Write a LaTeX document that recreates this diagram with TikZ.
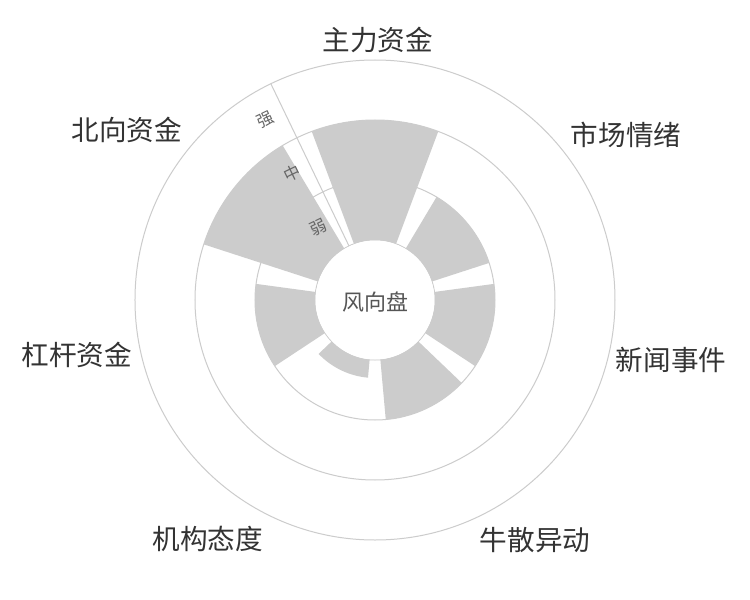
\documentclass[tikz,border=0pt]{standalone}
\usepackage{fontspec}
\setmainfont{Noto Sans CJK SC}
\usetikzlibrary{calc}
\definecolor{barc}{HTML}{CCCCCC}
\definecolor{gridc}{HTML}{CCCCCC}
\definecolor{labc}{HTML}{333333}
\definecolor{axlab}{HTML}{666666}
\definecolor{ctrc}{HTML}{555555}
\tikzset{
  gridline/.style={draw=gridc, line width=1pt},
  barfill/.style={fill=barc},
  catlabel/.style={inner sep=0pt, text=labc, font=\fontsize{27.6}{27.6}\selectfont},
  ringlabel/.style={inner sep=0pt, text=axlab, font=\fontsize{16.5}{16.5}\selectfont, rotate=25.714},
  centerlabel/.style={inner sep=0pt, text=ctrc, font=\fontsize{22}{22}\selectfont}
}
\newcommand{\polarbar}[2]{%
  \pgfmathsetmacro{\aa}{90-#1-20.57}%
  \pgfmathsetmacro{\ab}{90-#1+20.57}%
  \fill[barfill] (\aa:60) arc[start angle=\aa, end angle=\ab, radius=60]
     -- (\ab:#2) arc[start angle=\ab, end angle=\aa, radius=#2] -- cycle;%
}
\begin{document}
\begin{tikzpicture}[x=1pt,y=1pt]
\useasboundingbox[fill=white] (-375,-300) rectangle (375,300);
% grid circles
\foreach \r in {60,120,180,240} {\draw[gridline] (0,0) circle[radius=\r];}
% radial axis
\coordinate (ax0) at (115.714:60);
\coordinate (ax1) at (115.714:240);
\draw[gridline] (ax0) -- (ax1);
% bars
\polarbar{0}{180}
\polarbar{51.4286}{120}
\polarbar{102.857}{120}
\polarbar{154.286}{120}
\polarbar{205.714}{78}
\polarbar{257.143}{120}
\polarbar{308.571}{180}
% inner circle
\fill[white] (0,0) circle[radius=59.5];
% ring labels
\node[ringlabel] (ruo) at ($(115.714:90)+(205.714:20)$) {弱};
\node[ringlabel] (zhong) at ($(115.714:150)+(205.714:20)$) {中};
\node[ringlabel] (qiang) at ($(115.714:210)+(205.714:20)$) {强};
% center
\node[centerlabel] (ctr) at (1,-2) {风向盘};
% category labels
\node[catlabel] (c1) at (3,260) {主力资金};
\node[catlabel] (c2) at (251,165) {市场情绪};
\node[catlabel] (c3) at (296,-60) {新闻事件};
\node[catlabel] (c4) at (160,-240) {牛散异动};
\node[catlabel] (c5) at (-167,-239) {机构态度};
\node[catlabel] (c6) at (-298,-55) {杠杆资金};
\node[catlabel] (c7) at (-248,170) {北向资金};
\end{tikzpicture}
\end{document}
